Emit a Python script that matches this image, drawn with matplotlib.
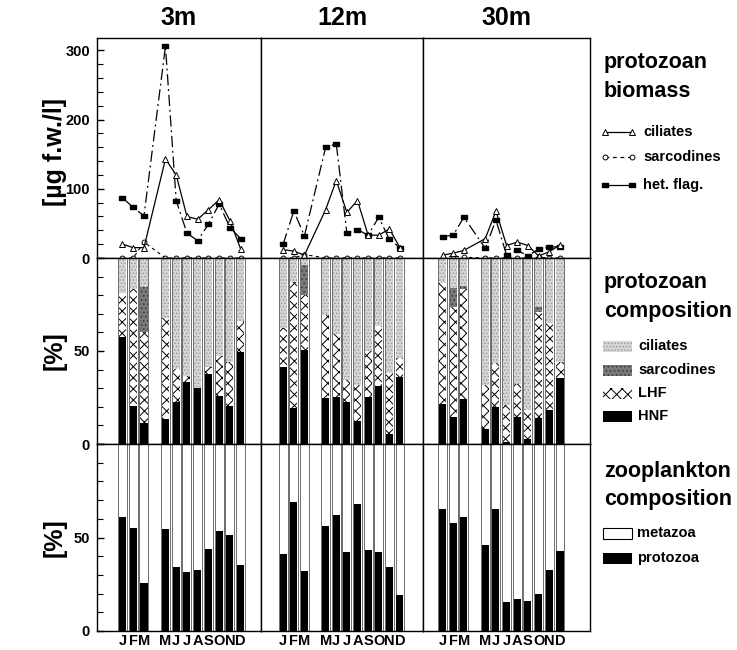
import matplotlib
matplotlib.use("Agg")
import matplotlib.pyplot as plt
import numpy as np

plt.rcParams['font.family'] = ['Liberation Sans', 'DejaVu Sans']
plt.rcParams['font.weight'] = 'bold'
plt.rcParams['hatch.linewidth'] = 0.7

# ===== months (April missing) =====
months = [1, 2, 3, 5, 6, 7, 8, 9, 10, 11, 12]
month_labels = ["J", "F", "M", "M", "J", "J", "A", "S", "O", "N", "D"]
depths = ["3m", "12m", "30m"]

# ===== protozoan biomass [ug f.w./l] =====
cil_3m = [20, 15, 15, 143, 120, 60, 56, 70, 84, 54, 13]
sarc_3m = [0, 0, 23, 0, 0, 0, 0, 0, 0, 0, 0]
flag_3m = [87, 73, 61, 306, 83, 36, 25, 49, 78, 44, 28]

cil_12m = [12, 10, 4, 70, 112, 66, 83, 33, 33, 42, 15]
sarc_12m = [0, 0, 5, 0, 0, 0, 0, 0, 0, 0, 0]
flag_12m = [20, 68, 32, 160, 165, 36, 41, 33, 59, 27, 15]

cil_30m = [4, 7, 11, 28, 68, 18, 23, 18, 3, 9, 19]
sarc_30m = [0, 3, 1, 0, 0, 0, 0, 0, 1, 0, 0]
flag_30m = [31, 33, 59, 14, 55, 4, 11, 3, 13, 16, 16]

# ===== protozoan composition [%] =====
hnf_3m = [57.7, 20.6, 11.1, 13.3, 22.8, 33.5, 29.9, 37.6, 25.8, 20.6, 49.3]
lhf_3m = [23.7, 62.6, 48.9, 54.6, 17.5, 3.1, 0, 3.6, 21.5, 23.3, 17.0]
sarp_3m = [0, 0, 24.6, 0, 0, 0, 0, 0, 0, 0, 0]

hnf_12m = [41.2, 19.2, 50.5, 24.6, 25.1, 22.8, 12.5, 25.1, 31.4, 5.4, 36.2]
lhf_12m = [21.0, 68.1, 29.6, 44.8, 34.0, 11.6, 19.2, 24.9, 32.2, 33.0, 9.9]
sarp_12m = [0, 0, 16.1, 0, 0, 0, 0, 0, 0, 0, 0]

hnf_30m = [21.3, 14.7, 24.2, 7.9, 19.7, 1.0, 14.3, 2.7, 13.8, 18.3, 35.7]
lhf_30m = [65.1, 59.1, 59.0, 23.8, 23.7, 20.0, 18.0, 15.6, 57.3, 46.6, 8.6]
sarp_30m = [0, 10.3, 1.8, 0, 0, 0, 0, 0, 2.7, 0, 0]

# ===== zooplankton composition [% protozoa] =====
proto_3m = [61, 55, 25.5, 54.5, 34, 31.5, 32.5, 44, 53.5, 51.5, 35.5]
proto_12m = [41, 69, 32, 56, 62, 42, 68, 43.5, 42.5, 34, 19.5]
proto_30m = [65.5, 58, 61, 46, 65, 15.5, 17, 16, 20, 32.5, 43]

biomass = [(cil_3m, sarc_3m, flag_3m), (cil_12m, sarc_12m, flag_12m),
           (cil_30m, sarc_30m, flag_30m)]
compo = [(hnf_3m, lhf_3m, sarp_3m), (hnf_12m, lhf_12m, sarp_12m),
         (hnf_30m, lhf_30m, sarp_30m)]
zoo = [proto_3m, proto_12m, proto_30m]

# ===== layout (pixels of a 737x650 figure) =====
W, H = 737, 650
col_px = [(97, 164), (261, 162), (423, 167)]
row_px = [(38, 258), (258, 444), (444, 631)]
xlims = [(-1.37, 13.89), (-1.09, 14.17), (-0.83, 14.81)]

fig = plt.figure(figsize=(W / 100, H / 100), dpi=100)

rect = [(-1.5, -1), (1.5, -1), (1.5, 1), (-1.5, 1), (-1.5, -1)]
flag_ls = (0, (9, 3, 1.5, 3))

cil_style = dict(facecolor="#d6d6d6", edgecolor="#9a9a9a", hatch=".....", linewidth=0)
sar_style = dict(facecolor="#7a7a7a", edgecolor="#3a3a3a", hatch="....", linewidth=0)
lhf_style = dict(facecolor="white", edgecolor="black", hatch="xxx", linewidth=0)
hnf_style = dict(facecolor="black", edgecolor="black", linewidth=0)

outer_w = 0.84
inner_w = 0.66

axes = {}
for r, (top, bot) in enumerate(row_px):
    for c, (left, wid) in enumerate(col_px):
        ax = fig.add_axes([left / W, 1 - bot / H, wid / W, (bot - top) / H])
        ax.set_xlim(*xlims[c])
        for s in ax.spines.values():
            s.set_linewidth(1.0)
        axes[r, c] = ax

for c in range(3):
    # ---- biomass ----
    ax = axes[0, c]
    cil, sar, flag = biomass[c]
    ax.plot(months, sar, linestyle=(0, (3, 3)), color="black", lw=0.8,
            marker="o", ms=3.5, mfc="white", mec="black", mew=0.7)
    ax.plot(months, flag, linestyle=flag_ls, color="black", lw=0.9,
            marker=rect, ms=5, mfc="black", mec="black")
    ax.plot(months, cil, linestyle="-", color="black", lw=0.9,
            marker="^", ms=4.5, mfc="white", mec="black", mew=0.7)
    ax.set_ylim(0, 318)

    # ---- protozoan composition ----
    ax = axes[1, c]
    hnf, lhf, sp = [np.array(a, dtype=float) for a in compo[c]]
    cilp = 100 - hnf - lhf - sp
    ax.bar(months, 100, width=outer_w, facecolor="white", edgecolor="#555555", lw=0.6)
    ax.bar(months, hnf, width=inner_w, **hnf_style)
    ax.bar(months, lhf, bottom=hnf, width=inner_w, **lhf_style)
    ax.bar(months, sp, bottom=hnf + lhf, width=inner_w, **sar_style)
    ax.bar(months, cilp, bottom=hnf + lhf + sp, width=inner_w, **cil_style)
    ax.set_ylim(0, 100)

    # ---- zooplankton composition ----
    ax = axes[2, c]
    pro = np.array(zoo[c], dtype=float)
    ax.bar(months, 100, width=outer_w, facecolor="white", edgecolor="#555555", lw=0.6)
    ax.bar(months, pro, width=inner_w, **hnf_style)
    ax.set_ylim(0, 100)

for (r, c), ax in axes.items():
    if r == 2:
        ax.set_xticks(months)
        ax.set_xticklabels(month_labels, fontsize=10.5, fontweight="bold")
        ax.tick_params(axis="x", length=0, pad=2.5)
    else:
        ax.set_xticks([])
    if c == 0:
        if r == 0:
            ax.set_yticks([0, 100, 200, 300])
            ax.set_yticks(np.arange(0, 320, 20), minor=True)
        else:
            ax.set_yticks([0, 50, 100])
            ax.set_yticklabels(["0", "50", ""])
            ax.set_yticks(np.arange(0, 101, 10), minor=True)
        ax.tick_params(axis="y", which="both", direction="in", labelsize=10.5, pad=5)
        ax.tick_params(axis="y", which="major", length=5, width=1)
        ax.tick_params(axis="y", which="minor", length=4, width=0.8)
        for lab in ax.get_yticklabels():
            lab.set_fontweight("bold")
    else:
        ax.set_yticks([])

# ===== column titles =====
for c, name in enumerate(depths):
    left, wid = col_px[c]
    fig.text((left + wid / 2) / W, 1 - 18 / H, name, ha="center", va="center",
             fontsize=18, fontweight="bold")

# ===== y labels =====
fig.text(55 / W, 1 - 152 / H, "[µg f.w./l]", rotation=90, ha="center", va="center",
         fontsize=18, fontweight="bold")
fig.text(55 / W, 1 - 351 / H, "[%]", rotation=90, ha="center", va="center",
         fontsize=18, fontweight="bold")
fig.text(55 / W, 1 - 538 / H, "[%]", rotation=90, ha="center", va="center",
         fontsize=18, fontweight="bold")

# ===== legend panels =====
tx = 604 / W
title_fs = 15.5
entry_fs = 10.5
fig.text(tx, 1 - 68 / H, "protozoan", fontsize=title_fs, fontweight="bold", va="baseline")
fig.text(tx, 1 - 97 / H, "biomass", fontsize=title_fs, fontweight="bold", va="baseline")
fig.text(tx, 1 - 288 / H, "protozoan", fontsize=title_fs, fontweight="bold", va="baseline")
fig.text(tx, 1 - 317 / H, "composition", fontsize=title_fs, fontweight="bold", va="baseline")
fig.text(tx, 1 - 477 / H, "zooplankton", fontsize=title_fs, fontweight="bold", va="baseline")
fig.text(tx, 1 - 505 / H, "composition", fontsize=title_fs, fontweight="bold", va="baseline")

lax = fig.add_axes([0, 0, 1, 1], facecolor="none")
lax.set_xlim(0, W)
lax.set_ylim(H, 0)
lax.axis("off")

line_entries = [
    ("ciliates", 132, dict(linestyle="-", marker="^", ms=4, mfc="white", mec="black", mew=0.7)),
    ("sarcodines", 157, dict(linestyle=(0, (3, 3)), marker="o", ms=3.5, mfc="white", mec="black", mew=0.7)),
    ("het. flag.", 185, dict(linestyle="-", marker=rect, ms=5, mfc="black", mec="black")),
]
for label, y, st in line_entries:
    lax.plot([605, 632], [y, y], color="black", lw=0.9, **st)
    lax.text(643, y, label, fontsize=entry_fs, fontweight="bold", va="center")

patch_entries = [
    ("ciliates", 346, cil_style),
    ("sarcodines", 370, sar_style),
    ("LHF", 393, lhf_style),
    ("HNF", 416, hnf_style),
]
for label, y, st in patch_entries:
    lax.bar(618, 11, bottom=y - 5.5, width=29, **st)
    lax.text(638, y, label, fontsize=entry_fs, fontweight="bold", va="center")

zoo_entries = [
    ("metazoa", 533, dict(facecolor="white", edgecolor="black", linewidth=0.8)),
    ("protozoa", 558, hnf_style),
]
for label, y, st in zoo_entries:
    lax.bar(618, 11, bottom=y - 5.5, width=29, **st)
    lax.text(637, y, label, fontsize=entry_fs, fontweight="bold", va="center")

fig.savefig("out.png", dpi=100)
